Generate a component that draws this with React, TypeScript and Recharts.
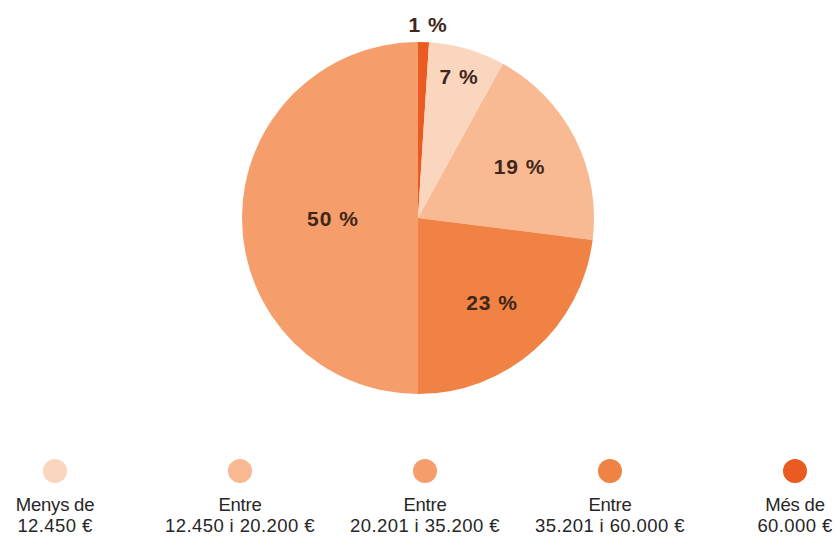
import React from 'react';
import { PieChart, Pie, Cell, Legend } from 'recharts';

// Categories in legend order
const CATEGORY_LINE1 = ['Menys de', 'Entre', 'Entre', 'Entre', 'Més de'];
const CATEGORY_LINE2 = ['12.450 €', '12.450 i 20.200 €', '20.201 i 35.200 €', '35.201 i 60.000 €', '60.000 €'];
const VALUES = [7, 19, 50, 23, 1];
// Clockwise order of the slices starting at 12 o'clock (indices into the lists above)
const PIE_ORDER = [4, 0, 1, 3, 2];

// Styling
const COLORS = ['#fbd6bf', '#f8b993', '#f59d6b', '#f08244', '#e95b20'];
const LABEL_RADIUS = [147, 114, 85, 112, 194];

const pieData = PIE_ORDER.map((i) => ({
  idx: i,
  name: `${CATEGORY_LINE1[i]} ${CATEGORY_LINE2[i]}`,
  value: VALUES[i],
}));

const RAD = Math.PI / 180;

const renderLabel = (props: any) => {
  const { cx, cy, midAngle, payload, value } = props;
  const idx = payload && payload.idx !== undefined ? payload.idx : props.idx;
  const r = LABEL_RADIUS[idx];
  const x = cx + r * Math.cos(-midAngle * RAD) + (idx === 4 ? 4 : 0);
  const y = cy + r * Math.sin(-midAngle * RAD);
  return (
    <text
      x={x}
      y={y}
      textAnchor="middle"
      dominantBaseline="central"
      fill="#40261a"
      fontFamily="Liberation Sans, Arial, sans-serif"
      fontWeight="bold"
      fontSize={21}
      letterSpacing={1}
    >
      {`${value} %`}
    </text>
  );
};

const renderLegend = () => (
  <div style={{ position: 'relative', width: 836, height: 78 }}>
    {CATEGORY_LINE1.map((l1, i) => {
      const cxPos = 55 + i * 185;
      return (
        <div
          key={i}
          style={{
            position: 'absolute',
            left: cxPos - 90,
            top: 0,
            width: 180,
            textAlign: 'center',
            fontFamily: 'Liberation Sans, Arial, sans-serif',
            fontSize: 18.5,
            color: '#262626',
            lineHeight: '21px',
          }}
        >
          <div
            style={{
              width: 24,
              height: 24,
              borderRadius: 12,
              background: COLORS[i],
              margin: '0 auto 11px auto',
            }}
          />
          <div style={{ letterSpacing: -0.2 }}>{l1}</div>
          <div style={{ letterSpacing: 0.4, whiteSpace: 'nowrap' }}>{CATEGORY_LINE2[i]}</div>
        </div>
      );
    })}
  </div>
);

export default function App() {
  return (
    <div style={{ position: 'absolute', left: 0, top: 0, width: 836, height: 537, background: '#ffffff', overflow: 'hidden' }}>
      <PieChart width={836} height={537} margin={{ top: 0, right: 0, bottom: 0, left: 0 }}>
        <Pie
          data={pieData}
          dataKey="value"
          nameKey="name"
          cx={418}
          cy={218}
          outerRadius={176}
          startAngle={90}
          endAngle={-270}
          stroke="none"
          label={renderLabel}
          labelLine={false}
          isAnimationActive={false}
        >
          {pieData.map((d) => (
            <Cell key={d.idx} fill={COLORS[d.idx]} />
          ))}
        </Pie>
        <Legend
          content={renderLegend}
          wrapperStyle={{ left: 0, top: 459, width: 836 }}
        />
      </PieChart>
    </div>
  );
}
